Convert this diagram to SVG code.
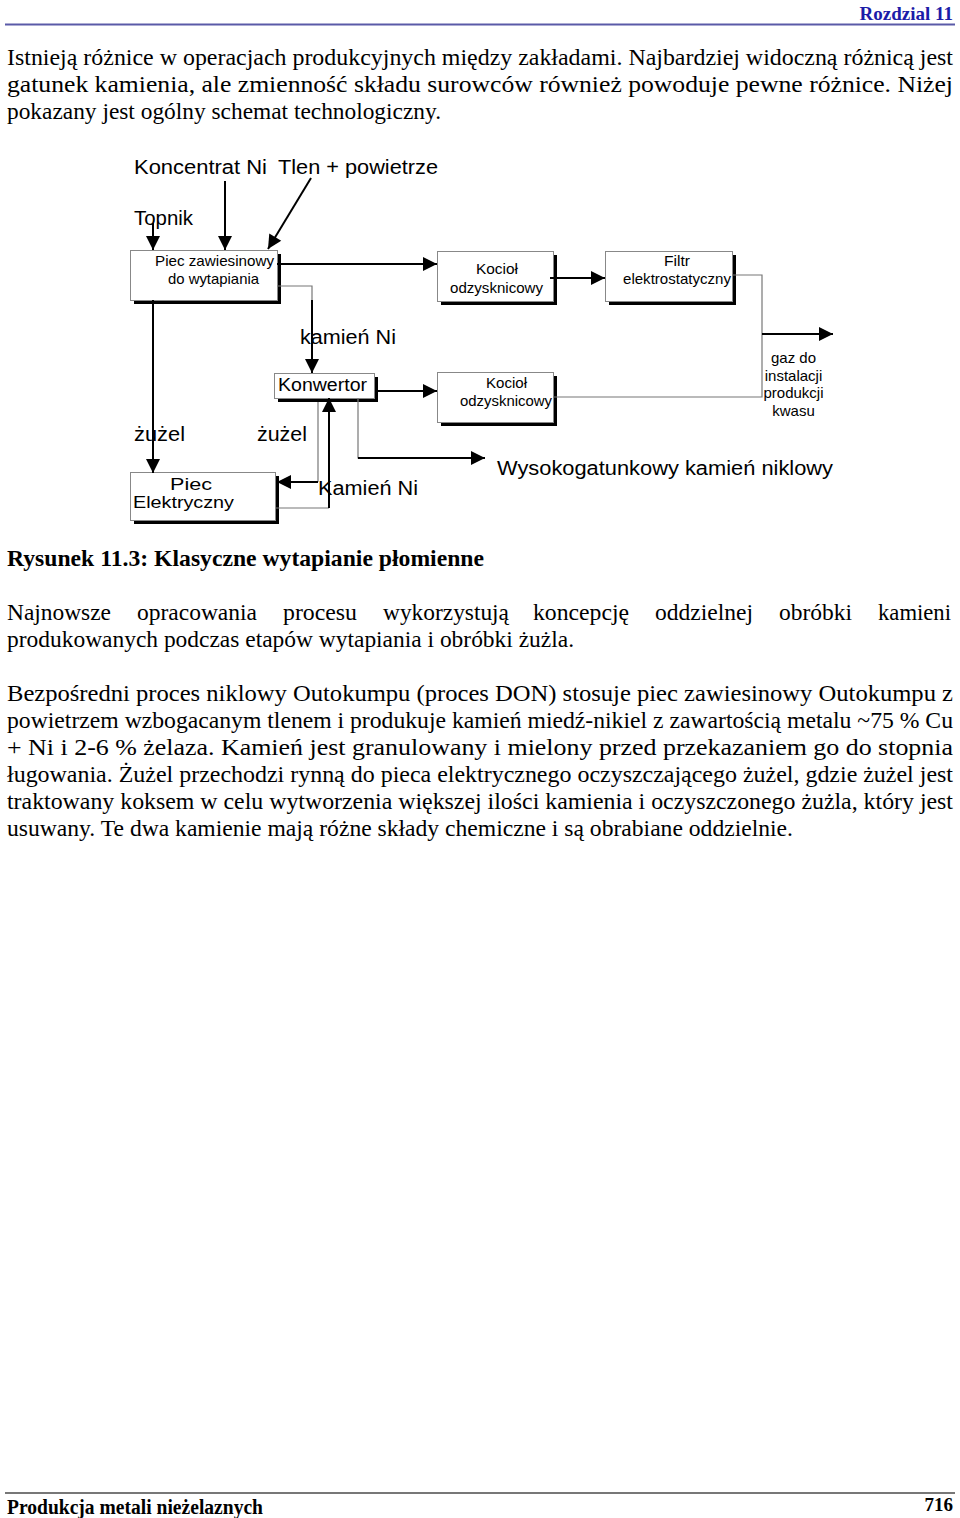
<svg xmlns="http://www.w3.org/2000/svg" width="960" height="1518" viewBox="0 0 960 1518">
<style>
.pg{font-family:"Liberation Serif","Times New Roman",serif;font-size:24px;fill:#000}
.bd{font-family:"Liberation Serif","Times New Roman",serif;font-weight:bold;fill:#000}
.ds{font-family:"Liberation Sans",Arial,sans-serif;fill:#000}
.box{fill:#fff;stroke:#888;stroke-width:1}
.sh{fill:#000}
.blk{stroke:#000;stroke-width:2;fill:none}
.gry{stroke:#777;stroke-width:1.2;fill:none}
</style>
<defs>
<marker id="ah" markerUnits="userSpaceOnUse" markerWidth="16" markerHeight="16" viewBox="0 0 16 16" refX="15" refY="8" orient="auto">
<path d="M1,1 L15,8 L1,15 Z" fill="#000"/>
</marker>
</defs>
<rect width="960" height="1518" fill="#fff"/>

<!-- header -->
<text class="bd" x="953" y="20" font-size="19" text-anchor="end" style="fill:#1c1ca8">Rozdzial 11</text>
<line x1="5" y1="24.5" x2="955" y2="24.5" stroke="#5a5aa8" stroke-width="2"/>

<!-- paragraph 1 -->
<text class="pg" x="7" y="65" textLength="946" lengthAdjust="spacingAndGlyphs">Istnieją różnice w operacjach produkcyjnych między zakładami. Najbardziej widoczną różnicą jest</text>
<text class="pg" x="7" y="92" textLength="946" lengthAdjust="spacingAndGlyphs">gatunek kamienia, ale zmienność składu surowców również powoduje pewne różnice. Niżej</text>
<text class="pg" x="7" y="119" textLength="434" lengthAdjust="spacingAndGlyphs">pokazany jest ogólny schemat technologiczny.</text>

<!-- diagram nodes -->
<g id="n-piec-zaw">
<rect class="sh" x="134" y="254" width="147" height="50"/>
<rect class="box" x="130.5" y="250.5" width="147" height="50"/>
<text class="ds" font-size="15" x="155" y="266" textLength="119" lengthAdjust="spacingAndGlyphs">Piec zawiesinowy</text>
<text class="ds" font-size="15" x="168" y="284" textLength="91" lengthAdjust="spacingAndGlyphs">do wytapiania</text>
</g>
<g id="n-kociol1">
<rect class="sh" x="441" y="255" width="116" height="50"/>
<rect class="box" x="437.5" y="251.5" width="116" height="50"/>
<text class="ds" font-size="15" x="476" y="274" textLength="42" lengthAdjust="spacingAndGlyphs">Kocioł</text>
<text class="ds" font-size="15" x="450" y="293" textLength="93" lengthAdjust="spacingAndGlyphs">odzysknicowy</text>
</g>
<g id="n-filtr">
<rect class="sh" x="609" y="255" width="127" height="50"/>
<rect class="box" x="605.5" y="251.5" width="127" height="50"/>
<text class="ds" font-size="15" x="664" y="266" textLength="26" lengthAdjust="spacingAndGlyphs">Filtr</text>
<text class="ds" font-size="15" x="623" y="284" textLength="108" lengthAdjust="spacingAndGlyphs">elektrostatyczny</text>
</g>
<g id="n-konwertor">
<rect class="sh" x="278" y="377" width="100" height="25"/>
<rect class="box" x="274.5" y="373.5" width="100" height="25"/>
<text class="ds" font-size="18" x="278" y="391" textLength="89" lengthAdjust="spacingAndGlyphs">Konwertor</text>
</g>
<g id="n-kociol2">
<rect class="sh" x="441" y="376" width="116" height="50"/>
<rect class="box" x="437.5" y="372.5" width="116" height="50"/>
<text class="ds" font-size="15" x="486" y="388" textLength="41" lengthAdjust="spacingAndGlyphs">Kocioł</text>
<text class="ds" font-size="15" x="460" y="406" textLength="92" lengthAdjust="spacingAndGlyphs">odzysknicowy</text>
</g>
<g id="n-piec-el">
<rect class="sh" x="134" y="476" width="145" height="48"/>
<rect class="box" x="130.5" y="472.5" width="145" height="48"/>
<text class="ds" font-size="17" x="170" y="490" textLength="42" lengthAdjust="spacingAndGlyphs">Piec</text>
<text class="ds" font-size="17" x="133" y="508" textLength="101" lengthAdjust="spacingAndGlyphs">Elektryczny</text>
</g>

<!-- connectors -->
<g id="connectors">
<line class="blk" x1="153" y1="223" x2="153" y2="250" marker-end="url(#ah)"/>
<line class="blk" x1="225" y1="181" x2="225" y2="250" marker-end="url(#ah)"/>
<line class="blk" x1="311" y1="178" x2="268" y2="249" marker-end="url(#ah)"/>
<line class="blk" x1="277" y1="264" x2="437" y2="264" marker-end="url(#ah)"/>
<line class="blk" x1="550" y1="278" x2="605" y2="278" marker-end="url(#ah)"/>
<polyline class="gry" points="732,275 762,275 762,397 553,397"/>
<line class="blk" x1="762" y1="334" x2="833" y2="334" marker-end="url(#ah)"/>
<polyline class="gry" points="277,286 312,286 312,300"/>
<line class="blk" x1="312" y1="300" x2="312" y2="373" marker-end="url(#ah)"/>
<line class="blk" x1="153" y1="300" x2="153" y2="473" marker-end="url(#ah)"/>
<line class="blk" x1="378" y1="391" x2="437" y2="391" marker-end="url(#ah)"/>
<polyline class="gry" points="318,402 318,482"/>
<line class="blk" x1="318" y1="482" x2="277" y2="482" marker-end="url(#ah)"/>
<line class="gry" x1="276" y1="508" x2="329" y2="508"/>
<line class="blk" x1="329" y1="508" x2="329" y2="398" marker-end="url(#ah)"/>
<polyline class="gry" points="358,398 358,458 420,458"/>
<line class="blk" x1="358" y1="458" x2="485" y2="458" marker-end="url(#ah)"/>
</g>

<!-- diagram labels -->
<g id="labels">
<text class="ds" font-size="20" x="134" y="174" textLength="133" lengthAdjust="spacingAndGlyphs">Koncentrat Ni</text>
<text class="ds" font-size="20" x="278" y="174" textLength="160" lengthAdjust="spacingAndGlyphs">Tlen + powietrze</text>
<text class="ds" font-size="20" x="134" y="225" textLength="59" lengthAdjust="spacingAndGlyphs">Topnik</text>
<text class="ds" font-size="20" x="300" y="344" textLength="96" lengthAdjust="spacingAndGlyphs">kamień Ni</text>
<text class="ds" font-size="20" x="134" y="441" textLength="51" lengthAdjust="spacingAndGlyphs">żużel</text>
<text class="ds" font-size="20" x="257" y="441" textLength="50" lengthAdjust="spacingAndGlyphs">żużel</text>
<text class="ds" font-size="20" x="318" y="495" textLength="100" lengthAdjust="spacingAndGlyphs">Kamień Ni</text>
<text class="ds" font-size="20" x="497" y="475" textLength="336" lengthAdjust="spacingAndGlyphs">Wysokogatunkowy kamień niklowy</text>
<text class="ds" font-size="15" x="793.5" y="363" text-anchor="middle">gaz do</text>
<text class="ds" font-size="15" x="793.5" y="381" text-anchor="middle">instalacji</text>
<text class="ds" font-size="15" x="793.5" y="398" text-anchor="middle">produkcji</text>
<text class="ds" font-size="15" x="793.5" y="416" text-anchor="middle">kwasu</text>
</g>

<!-- caption -->
<text class="bd" font-size="23" x="7" y="566" textLength="477" lengthAdjust="spacingAndGlyphs">Rysunek 11.3: Klasyczne wytapianie płomienne</text>

<!-- paragraph 2 -->
<text class="pg" y="620"><tspan x="7" textLength="104" lengthAdjust="spacingAndGlyphs">Najnowsze</tspan><tspan x="137" textLength="120" lengthAdjust="spacingAndGlyphs">opracowania</tspan><tspan x="283" textLength="74" lengthAdjust="spacingAndGlyphs">procesu</tspan><tspan x="383" textLength="126" lengthAdjust="spacingAndGlyphs">wykorzystują</tspan><tspan x="533" textLength="96" lengthAdjust="spacingAndGlyphs">koncepcję</tspan><tspan x="655" textLength="98" lengthAdjust="spacingAndGlyphs">oddzielnej</tspan><tspan x="779" textLength="73" lengthAdjust="spacingAndGlyphs">obróbki</tspan><tspan x="878" textLength="73" lengthAdjust="spacingAndGlyphs">kamieni</tspan></text>
<text class="pg" x="7" y="647" textLength="567" lengthAdjust="spacingAndGlyphs">produkowanych podczas etapów wytapiania i obróbki żużla.</text>

<!-- paragraph 3 -->
<text class="pg" x="7" y="701" textLength="946" lengthAdjust="spacingAndGlyphs">Bezpośredni proces niklowy Outokumpu (proces DON) stosuje piec zawiesinowy Outokumpu z</text>
<text class="pg" x="7" y="728" textLength="946" lengthAdjust="spacingAndGlyphs">powietrzem wzbogacanym tlenem i produkuje kamień miedź-nikiel z zawartością metalu ~75 % Cu</text>
<text class="pg" x="7" y="755" textLength="946" lengthAdjust="spacingAndGlyphs">+ Ni i 2-6 % żelaza. Kamień jest granulowany i mielony przed przekazaniem go do stopnia</text>
<text class="pg" x="7" y="782" textLength="946" lengthAdjust="spacingAndGlyphs">ługowania. Żużel przechodzi rynną do pieca elektrycznego oczyszczającego żużel, gdzie żużel jest</text>
<text class="pg" x="7" y="809" textLength="946" lengthAdjust="spacingAndGlyphs">traktowany koksem w celu wytworzenia większej ilości kamienia i oczyszczonego żużla, który jest</text>
<text class="pg" x="7" y="836" textLength="786" lengthAdjust="spacingAndGlyphs">usuwany. Te dwa kamienie mają różne składy chemiczne i są obrabiane oddzielnie.</text>

<!-- footer -->
<line x1="5" y1="1493" x2="955" y2="1493" stroke="#777" stroke-width="2"/>
<text class="bd" font-size="20" x="7" y="1514" textLength="256" lengthAdjust="spacingAndGlyphs">Produkcja metali nieżelaznych</text>
<text class="bd" font-size="19" x="953" y="1511" text-anchor="end">716</text>
</svg>
